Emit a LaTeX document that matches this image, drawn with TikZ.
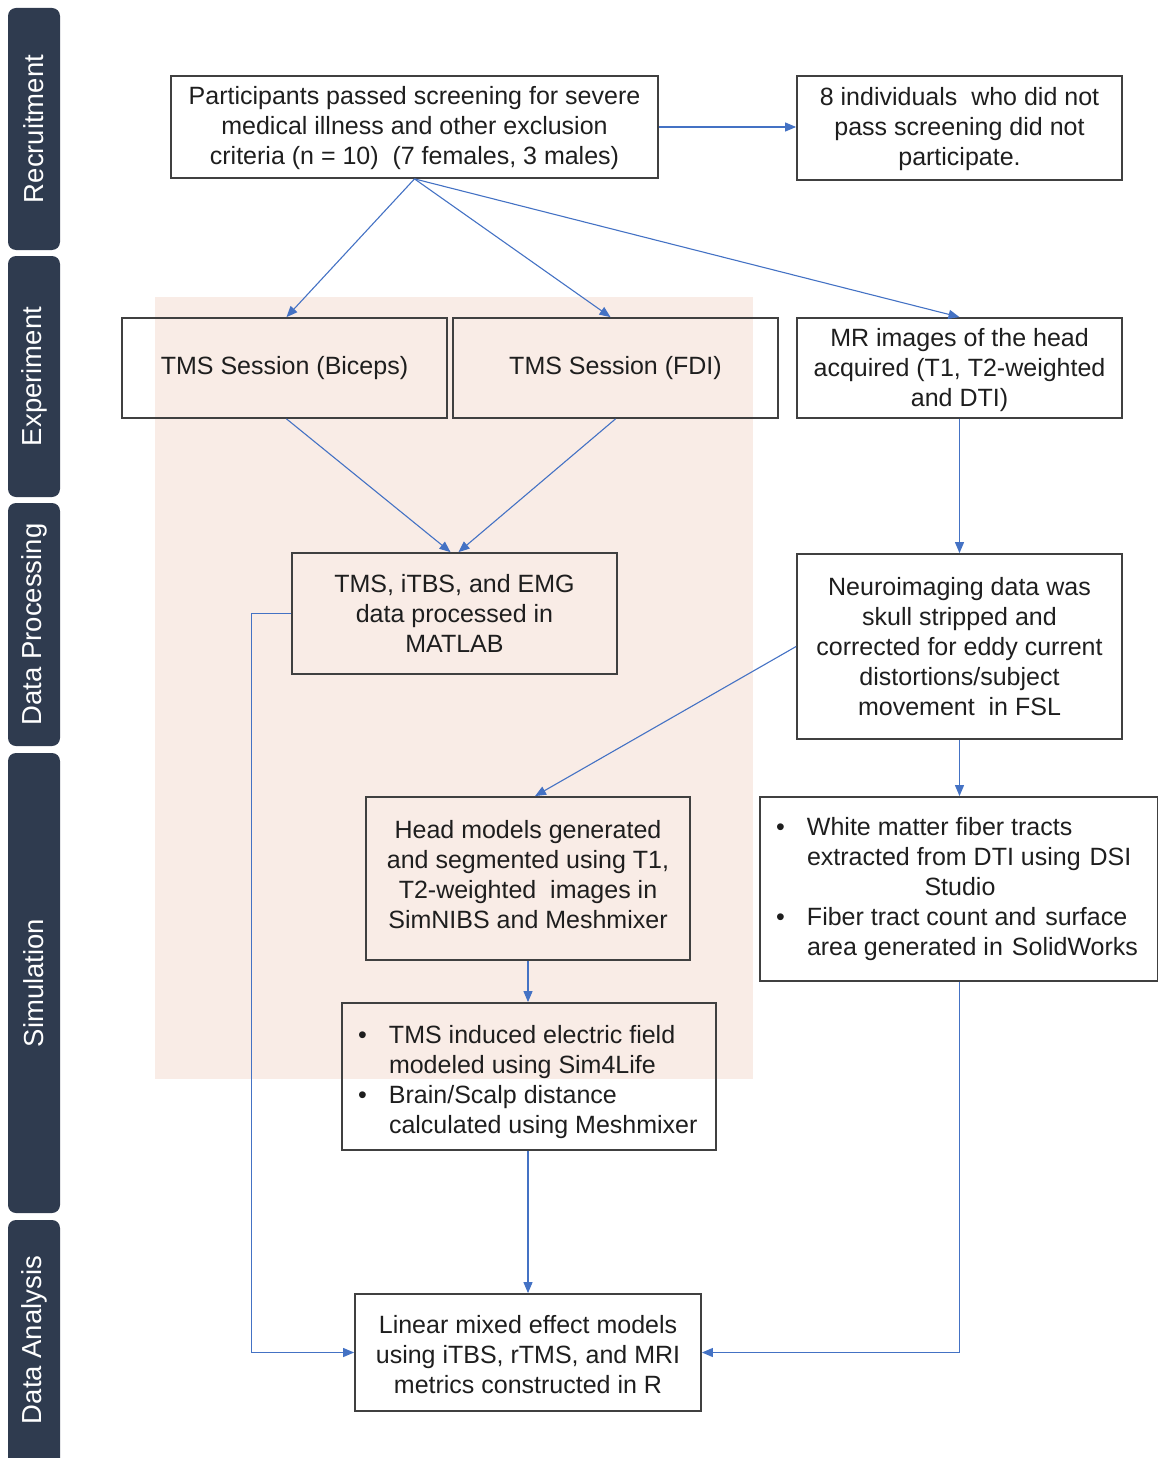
\documentclass[tikz,border=0pt]{standalone}
\usepackage{fontspec}
\setmainfont{Liberation Sans}
\usetikzlibrary{arrows.meta}
\definecolor{arrowblue}{RGB}{68,114,196}
\definecolor{boxline}{RGB}{64,64,64}
\definecolor{tabnavy}{RGB}{47,59,79}
\definecolor{pinkbg}{RGB}{249,236,230}
\definecolor{txt}{RGB}{30,30,30}
\newcommand{\lowerby}[2]{\raisebox{-#1}[\height][\depth]{#2}}
\begin{document}
\begin{tikzpicture}[x=1pt,y=-1pt,
  box/.style={draw=boxline,line width=1.8pt,inner sep=0pt,align=center,text=txt,
    font=\fontsize{25}{30}\selectfont},
  tab/.style={fill=tabnavy,rounded corners=8pt,rotate=90,text=white,inner sep=0pt,
    minimum height=52pt,font=\fontsize{27.5}{32}\selectfont},
  arr/.style={draw=arrowblue,line width=1.1pt,-{Triangle[length=11pt,width=9pt]}}]
\useasboundingbox (0,0) rectangle (1158,1458);
% pink background
\fill[pinkbg] (155,297) rectangle (753,1079);
% side tabs
\node[tab,minimum width=242pt] (t1) at (34,129) {Recruitment};
\node[tab,minimum width=241pt] (t2) at (34,376.5) {Experiment};
\node[tab,minimum width=243pt] (t3) at (34,624.5) {Data Processing};
\node[tab,minimum width=460pt] (t4) at (34,983) {Simulation};
\node[tab,minimum width=250pt] (t5) at (34,1345) {};
\node[rotate=90,text=white,font=\fontsize{27.5}{32}\selectfont] (t5l) at (34,1340) {Data Analysis};
% boxes
\node[box,minimum width=487pt,minimum height=102pt] (top) at (414.5,127)
  {\lowerby{2pt}{\begin{tabular}{@{}c@{}}Participants passed screening for severe\\medical illness and other exclusion\\criteria (n = 10)\ \ (7 females, 3 males)\end{tabular}}};
\node[box,minimum width=325pt,minimum height=104pt] (excl) at (959.5,128)
  {\lowerby{2pt}{\begin{tabular}{@{}c@{}}8 individuals\ \ who did not\\pass screening did not\\participate.\end{tabular}}};
\node[box,minimum width=325pt,minimum height=100pt] (bic) at (284.5,368)
  {TMS Session (Biceps)};
\node[box,minimum width=325pt,minimum height=100pt] (fdi) at (615.5,368)
  {TMS Session (FDI)};
\node[box,minimum width=325pt,minimum height=100pt] (mr) at (959.5,368)
  {\lowerby{2pt}{\begin{tabular}{@{}c@{}}MR images of the head\\acquired (T1, T2-weighted\\and DTI)\end{tabular}}};
\node[box,minimum width=325pt,minimum height=121pt] (proc) at (454.5,613.5)
  {TMS, iTBS, and EMG\\data processed in\\MATLAB};
\node[box,minimum width=325pt,minimum height=185pt] (neuro) at (959.5,646.5)
  {Neuroimaging data was\\skull stripped and\\corrected for eddy current\\distortions/subject\\movement\ \ in FSL};
\node[box,minimum width=324pt,minimum height=163pt] (head) at (528,878.5)
  {\lowerby{-1pt}{\begin{tabular}{@{}c@{}}Head models generated\\and segmented using T1,\\T2-weighted\ \ images in\\SimNIBS and Meshmixer\end{tabular}}};
\node[box,minimum width=398pt,minimum height=184pt] (wm) at (959,889)
  {\begin{tabular}{@{}p{31pt}@{}p{335pt}@{}}
   \textbullet & White matter fiber tracts\\
   & extracted from DTI using\hspace{9pt}DSI\\
   & \makebox[306pt]{Studio}\\
   \textbullet & Fiber tract count and\hspace{9pt}surface\\
   & area generated in\hspace{9pt}SolidWorks
   \end{tabular}};
\node[box,minimum width=374pt,minimum height=147pt] (sim) at (529,1076.5)
  {\lowerby{6pt}{\begin{tabular}{@{}p{31pt}@{}p{311pt}@{}}
   \textbullet & TMS induced electric field\\
   & modeled using Sim4Life\\
   \textbullet & Brain/Scalp distance\\
   & calculated using Meshmixer
   \end{tabular}}};
\node[box,minimum width=346pt,minimum height=117pt] (lin) at (528,1352.5)
  {\lowerby{5pt}{\begin{tabular}{@{}c@{}}Linear mixed effect models\\using iTBS, rTMS, and MRI\\metrics constructed in R\end{tabular}}};
% connectors
\draw[arr] (top.east) -- (top.east -| excl.west);
\draw[arr] (top.south) -- ([xshift=2pt]bic.north);
\draw[arr] (top.south) -- ([xshift=-5pt]fdi.north);
\draw[arr] (top.south) -- (mr.north);
\draw[arr] ([xshift=2pt]bic.south) -- ([xshift=-4pt]proc.north);
\draw[arr] (fdi.south) -- ([xshift=4pt]proc.north);
\draw[arr] (mr.south) -- (neuro.north);
\draw[arr] (neuro.west) -- ([xshift=7pt]head.north);
\draw[arr] (neuro.south) -- (neuro.south |- wm.north);
\draw[arr] (head.south) -- (head.south |- sim.north);
\draw[arr] (head.south |- sim.south) -- (head.south |- lin.north);
\draw[arr] (proc.west) -- ++(-40,0) |- (lin.west);
\draw[arr] (neuro.south |- wm.south) |- (lin.east);
\end{tikzpicture}
\end{document}
